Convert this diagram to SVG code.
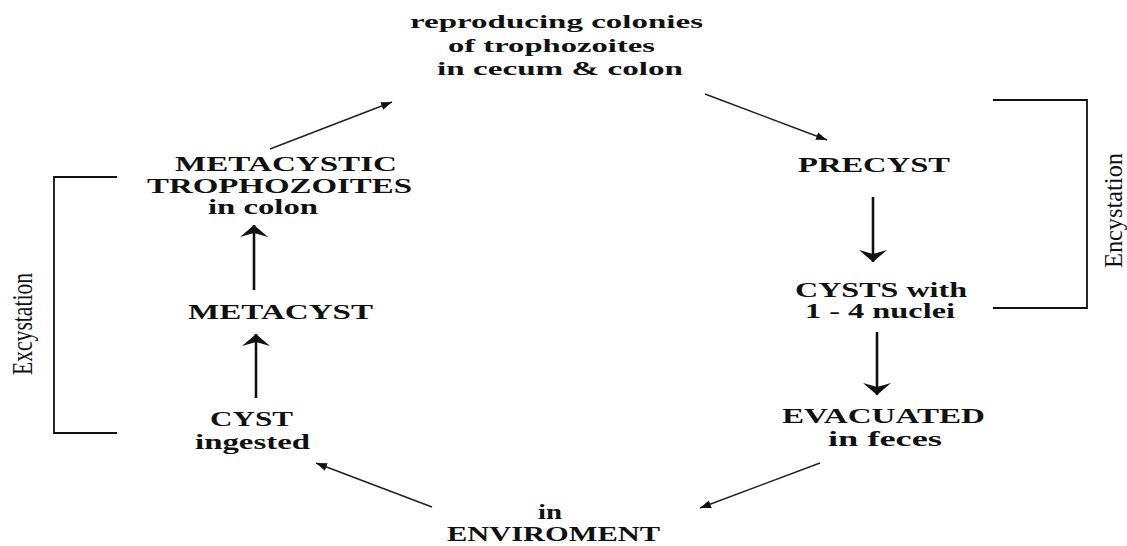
<svg xmlns="http://www.w3.org/2000/svg" width="1127" height="546" viewBox="0 0 1127 546">
<style>
.t{font-family:"Liberation Serif","Times New Roman",serif;font-weight:bold;font-size:20px;fill:#111}
.s{font-size:18px}
.v{font-family:"Liberation Serif","Times New Roman",serif;font-weight:normal;fill:#111}
.d{stroke:#222;stroke-width:1.6;fill:none}
.u{stroke:#111;stroke-width:2.6;fill:none}
.b{stroke:#111;stroke-width:1.8;fill:none}
</style>
<defs>
<marker id="sm" markerUnits="userSpaceOnUse" markerWidth="12" markerHeight="10" viewBox="0 0 12 10" refX="11" refY="5" orient="auto">
<path d="M0,1 L11,5 L0,9 Z" fill="#111"/>
</marker>
<marker id="big" markerUnits="userSpaceOnUse" markerWidth="16" markerHeight="30" viewBox="0 0 16 30" refX="14" refY="15" orient="auto">
<path d="M2,1 L14,15 L2,29 L6,15 Z" fill="#111"/>
</marker>
</defs>
<g id="connectors">
<line class="d" x1="705" y1="94" x2="827" y2="140" marker-end="url(#sm)"/>
<line class="d" x1="270" y1="149" x2="392" y2="102" marker-end="url(#sm)"/>
<line class="d" x1="820" y1="463" x2="700" y2="508" marker-end="url(#sm)"/>
<line class="d" x1="432" y1="507" x2="316" y2="463" marker-end="url(#sm)"/>
<line class="u" x1="873" y1="197" x2="873" y2="262" marker-end="url(#big)"/>
<line class="u" x1="877" y1="332" x2="877" y2="395" marker-end="url(#big)"/>
<line class="u" x1="254" y1="290" x2="254" y2="225" marker-end="url(#big)"/>
<line class="u" x1="256" y1="398" x2="256" y2="334" marker-end="url(#big)"/>
</g>
<g id="bracket-encystation">
<path class="b" d="M993,100 H1087 V308 H993"/>
<text class="v" transform="translate(1122,268) rotate(-90)" font-size="26" textLength="115" lengthAdjust="spacingAndGlyphs">Encystation</text>
</g>
<g id="bracket-excystation">
<path class="b" d="M117,177 H54 V433 H117"/>
<text class="v" transform="translate(32,375) rotate(-90)" font-size="29" textLength="102" lengthAdjust="spacingAndGlyphs">Excystation</text>
</g>
<g id="node-colonies">
<text class="t s" x="410" y="28" textLength="293" lengthAdjust="spacingAndGlyphs">reproducing colonies</text>
<text class="t s" x="448" y="52" textLength="207" lengthAdjust="spacingAndGlyphs">of trophozoites</text>
<text class="t s" x="437" y="75" textLength="246" lengthAdjust="spacingAndGlyphs">in cecum &amp; colon</text>
</g>
<g id="node-precyst">
<text class="t" x="798" y="172" textLength="152" lengthAdjust="spacingAndGlyphs">PRECYST</text>
</g>
<g id="node-cysts">
<text class="t" x="795" y="297" textLength="172" lengthAdjust="spacingAndGlyphs">CYSTS with</text>
<text class="t" x="805" y="318" textLength="150" lengthAdjust="spacingAndGlyphs">1 - 4 nuclei</text>
</g>
<g id="node-evacuated">
<text class="t" x="782" y="423" textLength="203" lengthAdjust="spacingAndGlyphs">EVACUATED</text>
<text class="t" x="828" y="446" textLength="114" lengthAdjust="spacingAndGlyphs">in feces</text>
</g>
<g id="node-environment">
<text class="t" x="538" y="519" textLength="24" lengthAdjust="spacingAndGlyphs">in</text>
<text class="t" x="447" y="541" textLength="213" lengthAdjust="spacingAndGlyphs">ENVIROMENT</text>
</g>
<g id="node-cyst">
<text class="t" x="210" y="426" font-size="19" textLength="83" lengthAdjust="spacingAndGlyphs">CYST</text>
<text class="t" x="195" y="449" font-size="18" textLength="115" lengthAdjust="spacingAndGlyphs">ingested</text>
</g>
<g id="node-metacyst">
<text class="t" x="188" y="319" textLength="185" lengthAdjust="spacingAndGlyphs">METACYST</text>
</g>
<g id="node-metacystic">
<text class="t" x="175" y="171" textLength="222" lengthAdjust="spacingAndGlyphs">METACYSTIC</text>
<text class="t" x="147" y="193" textLength="265" lengthAdjust="spacingAndGlyphs">TROPHOZOITES</text>
<text class="t" x="208" y="214" font-size="18" textLength="110" lengthAdjust="spacingAndGlyphs">in colon</text>
</g>
</svg>
